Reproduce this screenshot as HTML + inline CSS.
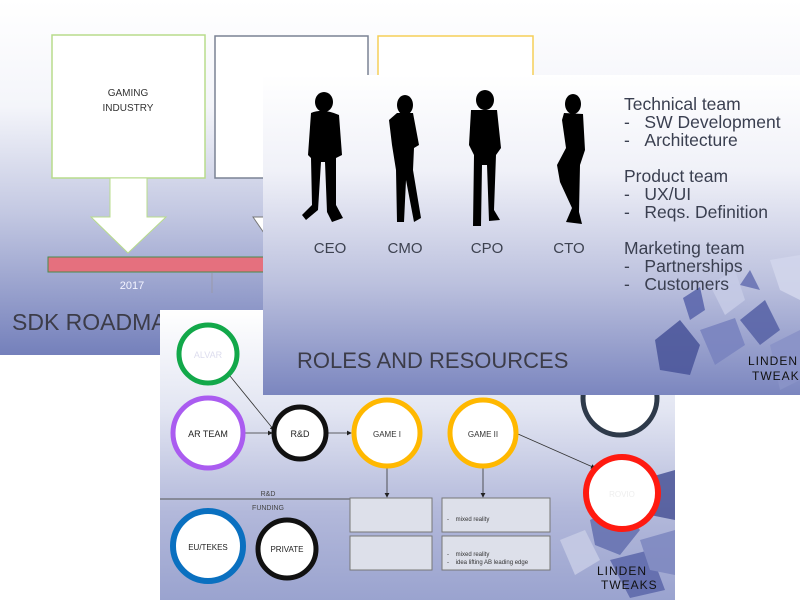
<!DOCTYPE html>
<html><head><meta charset="utf-8"><style>
html,body{margin:0;padding:0;background:#fff;width:800px;height:600px;overflow:hidden}
svg{display:block}
text{font-family:"Liberation Sans",sans-serif}
</style></head><body>
<svg width="800" height="600" viewBox="0 0 800 600" xmlns="http://www.w3.org/2000/svg">
<defs>
<linearGradient id="g1" x1="0" y1="0" x2="0" y2="1">
<stop offset="0" stop-color="#ffffff"/><stop offset="0.3" stop-color="#f4f5fa"/><stop offset="0.6" stop-color="#c3c8e2"/><stop offset="1" stop-color="#7480bb"/></linearGradient>
<linearGradient id="g2" x1="0" y1="0" x2="0" y2="1">
<stop offset="0" stop-color="#ffffff"/><stop offset="0.3" stop-color="#f0f1f8"/><stop offset="0.65" stop-color="#bcc1de"/><stop offset="1" stop-color="#7b86bf"/></linearGradient>
<linearGradient id="g3" x1="0" y1="0" x2="0" y2="1">
<stop offset="0" stop-color="#ffffff"/><stop offset="0.35" stop-color="#e2e5f2"/><stop offset="0.7" stop-color="#b2b8da"/><stop offset="1" stop-color="#9aa3cf"/></linearGradient>
<marker id="ah" markerWidth="6" markerHeight="6" refX="5" refY="3" orient="auto"><path d="M0,0 L6,3 L0,6z" fill="#222"/></marker>
</defs>

<!-- Slide 1 -->
<rect x="0" y="0" width="800" height="355" fill="url(#g1)"/>
<rect x="52" y="35" width="153" height="143" fill="#fff" stroke="#b8dc8c" stroke-width="1.5"/>
<text x="128" y="96" font-size="10" text-anchor="middle" fill="#333">GAMING</text>
<text x="128" y="111" font-size="10" text-anchor="middle" fill="#333">INDUSTRY</text>
<path d="M110,178 L147,178 L147,217 L166,217 L128,253 L91,217 L110,217z" fill="#fff" stroke="#b8dc8c"/>
<rect x="215" y="36" width="153" height="142" fill="#fff" stroke="#7a8294" stroke-width="1.5"/>
<rect x="378" y="36" width="155" height="142" fill="#fff" stroke="#f5cf58" stroke-width="1.5"/>
<path d="M253,217 L275,217 L264,233z" fill="#fff" stroke="#777"/>
<rect x="48" y="257" width="230" height="15" fill="#e5707e" stroke="#4a8a4a"/>
<line x1="212" y1="273" x2="212" y2="293" stroke="#99a"/>
<text x="132" y="289" font-size="11" text-anchor="middle" fill="#f4f4ff">2017</text>
<text x="12" y="330" font-size="23" fill="#3c3c48">SDK ROADMAP</text>

<!-- Slide 3 -->
<rect x="160" y="310" width="515" height="290" fill="url(#g3)"/>
<g opacity="0.85">
<polygon points="590,520 620,505 640,530 620,555 595,545" fill="#6470b0"/>
<polygon points="640,480 675,470 675,520 650,515" fill="#4b5598"/>
<polygon points="610,560 650,550 665,590 630,598" fill="#5c67aa"/>
<polygon points="560,540 585,530 600,560 575,575" fill="#c8cde6"/>
<polygon points="640,540 675,530 675,575 650,570" fill="#7d87c0"/>
</g>
<line x1="160" y1="499" x2="350" y2="499" stroke="#555"/>
<text x="268" y="496" font-size="7" text-anchor="middle" fill="#444">R&amp;D</text>
<text x="268" y="510" font-size="7" text-anchor="middle" fill="#444">FUNDING</text>
<line x1="230" y1="376" x2="274" y2="430" stroke="#333" stroke-width="0.8" marker-end="url(#ah)"/>
<line x1="244" y1="433" x2="272" y2="433" stroke="#333" stroke-width="0.8" marker-end="url(#ah)"/>
<line x1="327" y1="433" x2="351" y2="433" stroke="#333" stroke-width="0.8" marker-end="url(#ah)"/>
<line x1="387" y1="468" x2="387" y2="497" stroke="#333" stroke-width="0.8" marker-end="url(#ah)"/>
<line x1="483" y1="467" x2="483" y2="497" stroke="#333" stroke-width="0.8" marker-end="url(#ah)"/>
<line x1="518" y1="434" x2="595" y2="468" stroke="#333" stroke-width="0.8" marker-end="url(#ah)"/>
<g stroke-width="5" fill="#fff">
<circle cx="208" cy="354" r="29" stroke="#12a84a"/>
<circle cx="208" cy="433" r="35" stroke="#aa5cf0"/>
<circle cx="300" cy="433" r="26" stroke="#111"/>
<circle cx="387" cy="433" r="33" stroke="#ffb800"/>
<circle cx="483" cy="433" r="33" stroke="#ffb800"/>
<circle cx="620" cy="398" r="37" stroke="#2e3a4a"/>
<circle cx="622" cy="493" r="36" stroke="#ff1a10" stroke-width="6"/>
<circle cx="208" cy="546" r="35" stroke="#0a70c0" stroke-width="6"/>
<circle cx="287" cy="549" r="29" stroke="#111"/>
</g>
<text x="208" y="358" font-size="9" text-anchor="middle" fill="#dde">ALVAR</text>
<text x="208" y="437" font-size="9" text-anchor="middle" fill="#222">AR TEAM</text>
<text x="300" y="437" font-size="9" text-anchor="middle" fill="#222">R&amp;D</text>
<text x="387" y="437" font-size="8" text-anchor="middle" fill="#333">GAME I</text>
<text x="483" y="437" font-size="8" text-anchor="middle" fill="#333">GAME II</text>
<text x="622" y="497" font-size="8" text-anchor="middle" fill="#eee">ROVIO</text>
<text x="208" y="550" font-size="8" text-anchor="middle" fill="#222">EU/TEKES</text>
<text x="287" y="552" font-size="8" text-anchor="middle" fill="#222">PRIVATE</text>
<g fill="#dde0ea" stroke="#777">
<rect x="350" y="498" width="82" height="34"/><rect x="350" y="536" width="82" height="34"/>
<rect x="442" y="498" width="108" height="34"/><rect x="442" y="536" width="108" height="34"/>
</g>
<g font-size="6" fill="#333">
<text x="447" y="521">-&#160;&#160;&#160;&#160;mixed reality</text>
<text x="447" y="556">-&#160;&#160;&#160;&#160;mixed reality</text>
<text x="447" y="564">-&#160;&#160;&#160;&#160;idea lifting AB leading edge</text>
</g>
<text x="597" y="575" font-size="12" fill="#111" letter-spacing="1">LINDEN</text>
<text x="601" y="589" font-size="12" fill="#111" letter-spacing="1">TWEAKS</text>

<!-- Slide 2 -->
<rect x="263" y="75" width="537" height="320" fill="url(#g2)"/>
<g opacity="0.9">
<polygon points="655,340 680,320 700,345 690,375 660,370" fill="#4d589c"/>
<polygon points="700,330 735,318 745,345 715,365" fill="#7a84c0"/>
<polygon points="683,298 700,287 705,310 690,320" fill="#5d68ad"/>
<polygon points="710,285 735,270 745,300 725,315" fill="#c6cbe6"/>
<polygon points="740,320 765,300 780,330 760,345" fill="#5a65a8"/>
<polygon points="770,260 800,255 800,300 780,290" fill="#d2d6ec"/>
<polygon points="750,270 760,290 740,285" fill="#6a74b4"/>
<polygon points="770,345 800,330 800,380 780,390" fill="#8a93c8"/>
</g>
<g fill="#000">
<!-- CEO -->
<ellipse cx="324" cy="102" rx="9" ry="10"/>
<path d="M311,113 Q323,108 339,115 L342,155 L336,158 L336,205 L343,218 L332,222 L327,212 L325,162 L321,162 L318,210 L306,220 L302,215 L312,205 L311,158 L308,155z"/>
<!-- CMO -->
<ellipse cx="405" cy="105" rx="8" ry="10"/>
<path d="M397,113 L413,113 L419,145 L414,148 L413,170 L421,218 L414,222 L406,180 L404,222 L397,222 L396,170 L392,145 L389,120z"/>
<!-- CTO etc -->
<ellipse cx="485" cy="100" rx="9" ry="10"/>
<path d="M471,110 L497,110 L501,148 L496,155 L494,210 L500,220 L489,221 L487,165 L482,165 L481,226 L473,226 L474,155 L469,145z"/>
<ellipse cx="573" cy="104" rx="8" ry="10"/>
<path d="M564,113 L583,114 L585,150 L580,165 L579,212 L582,224 L566,222 L572,208 L560,182 L557,165 L566,148 L562,120z"/>
</g>
<g font-size="15" fill="#3d4250" text-anchor="middle">
<text x="330" y="253">CEO</text><text x="405" y="253">CMO</text><text x="487" y="253">CPO</text><text x="569" y="253">CTO</text>
</g>
<g font-size="17.5" fill="#3a3f50">
<text x="624" y="110">Technical team</text>
<text x="624" y="128">-&#160;&#160;&#160;SW Development</text>
<text x="624" y="146">-&#160;&#160;&#160;Architecture</text>
<text x="624" y="182">Product team</text>
<text x="624" y="200">-&#160;&#160;&#160;UX/UI</text>
<text x="624" y="218">-&#160;&#160;&#160;Reqs. Definition</text>
<text x="624" y="254">Marketing team</text>
<text x="624" y="272">-&#160;&#160;&#160;Partnerships</text>
<text x="624" y="290">-&#160;&#160;&#160;Customers</text>
</g>
<text x="297" y="368" font-size="22" fill="#3c3c48">ROLES AND RESOURCES</text>
<text x="748" y="365" font-size="12" fill="#111" letter-spacing="1">LINDEN</text>
<text x="752" y="380" font-size="12" fill="#111" letter-spacing="1">TWEAKS</text>
</svg>
</body></html>
